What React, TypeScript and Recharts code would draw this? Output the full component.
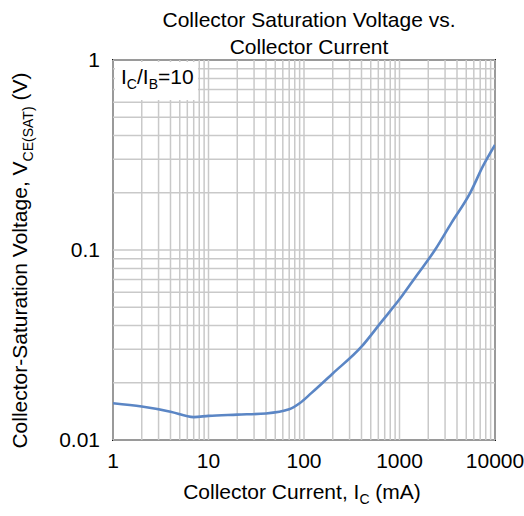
import { LineChart, Line, XAxis, YAxis, ReferenceLine, ReferenceArea } from 'recharts';

// Collector current (mA) and VCE(sat) (V)
const currentMa = [1, 2, 4, 7, 10, 20, 40, 70, 90, 120, 200, 400, 650, 1000, 1500, 2350, 3500, 5500, 7500, 10000];
const vceSat = [0.0156, 0.015, 0.0141, 0.0132, 0.0134, 0.0136, 0.0138, 0.0145, 0.0156, 0.0177, 0.0224, 0.031, 0.042, 0.055, 0.073, 0.1, 0.139, 0.2, 0.277, 0.357];

const xTicks = [1, 10, 100, 1000, 10000];
const yTicks = [0.01, 0.1, 1];
const yTickLabels = ['0.01', '0.1', '1'];

// minor log grid: 1..9 in every decade
const decadeGrid = (from: number, to: number) => {
    const out: number[] = [];
    for (let d = from; d < to * 0.999; d *= 10) {
        for (let m = 1; m < 10; m++) out.push(Number((d * m).toPrecision(3)));
    }
    out.push(to);
    return out;
};
const xGrid = decadeGrid(1, 10000);
const yGrid = decadeGrid(0.01, 1);

const data = currentMa.map((ic, i) => ({ ic, v: vceSat[i] }));

const FONT = '"Liberation Sans", Arial, sans-serif';
const tickStyle = { fontSize: 21, fill: '#000', fontFamily: FONT };
const GRID = '#c9c9c9';

export default function App() {
    return (
        <div style={{ position: 'absolute', left: 0, top: 0, width: 524, height: 516, background: '#fff', fontFamily: FONT, color: '#000' }}>
            <div style={{ position: 'absolute', left: 109, width: 400, top: 6, textAlign: 'center', fontSize: 21, lineHeight: '27px' }}>
                Collector Saturation Voltage vs.<br />Collector Current
            </div>

            <LineChart width={524} height={516} data={data}
                margin={{ top: 60, right: 29, bottom: 46, left: 63 }}>
                <XAxis dataKey="ic" type="number" scale="log" domain={[1, 10000]} ticks={xTicks}
                    height={30} tickSize={0} tickMargin={13} tickLine={false} axisLine={false}
                    tick={tickStyle} allowDataOverflow />
                <YAxis type="number" scale="log" domain={[0.01, 1]} ticks={yTicks}
                    tickFormatter={(v: number) => yTickLabels[yTicks.indexOf(v)] ?? String(v)}
                    width={50} tickSize={0} tickMargin={13} tickLine={false} axisLine={false}
                    tick={tickStyle} allowDataOverflow />
                {xGrid.map(v => <ReferenceLine key={'x' + v} x={v} stroke={GRID} strokeWidth={1.5} />)}
                {yGrid.map(v => <ReferenceLine key={'y' + v} y={v} stroke={GRID} strokeWidth={1.5} />)}
                <Line type="monotone" dataKey="v" stroke="#5b86c5" strokeWidth={2.6}
                    dot={false} isAnimationActive={false} />
                <ReferenceArea x1={1} x2={10000} y1={0.01} y2={1}
                    fill="none" stroke="#111" strokeWidth={2} ifOverflow="visible" />
            </LineChart>

            {/* ratio annotation */}
            <div style={{ position: 'absolute', left: 115, top: 62, padding: '3px 4px 4px 6px', background: '#fff', fontSize: 21, lineHeight: '24px' }}>
                I<sub style={{ fontSize: 14 }}>C</sub>/I<sub style={{ fontSize: 14 }}>B</sub>=10
            </div>

            <div style={{ position: 'absolute', left: 102, width: 400, top: 480, textAlign: 'center', fontSize: 21, lineHeight: '24px' }}>
                Collector Current, I<sub style={{ fontSize: 14 }}>C</sub> (mA)
            </div>

            <div style={{ position: 'absolute', left: 24 - 220, width: 440, top: 257 - 12, textAlign: 'center', fontSize: 21, lineHeight: '24px', whiteSpace: 'nowrap', transform: 'rotate(-90deg)' }}>
                Collector-Saturation Voltage, V<sub style={{ fontSize: 14 }}>CE(SAT)</sub> (V)
            </div>
        </div>
    );
}
